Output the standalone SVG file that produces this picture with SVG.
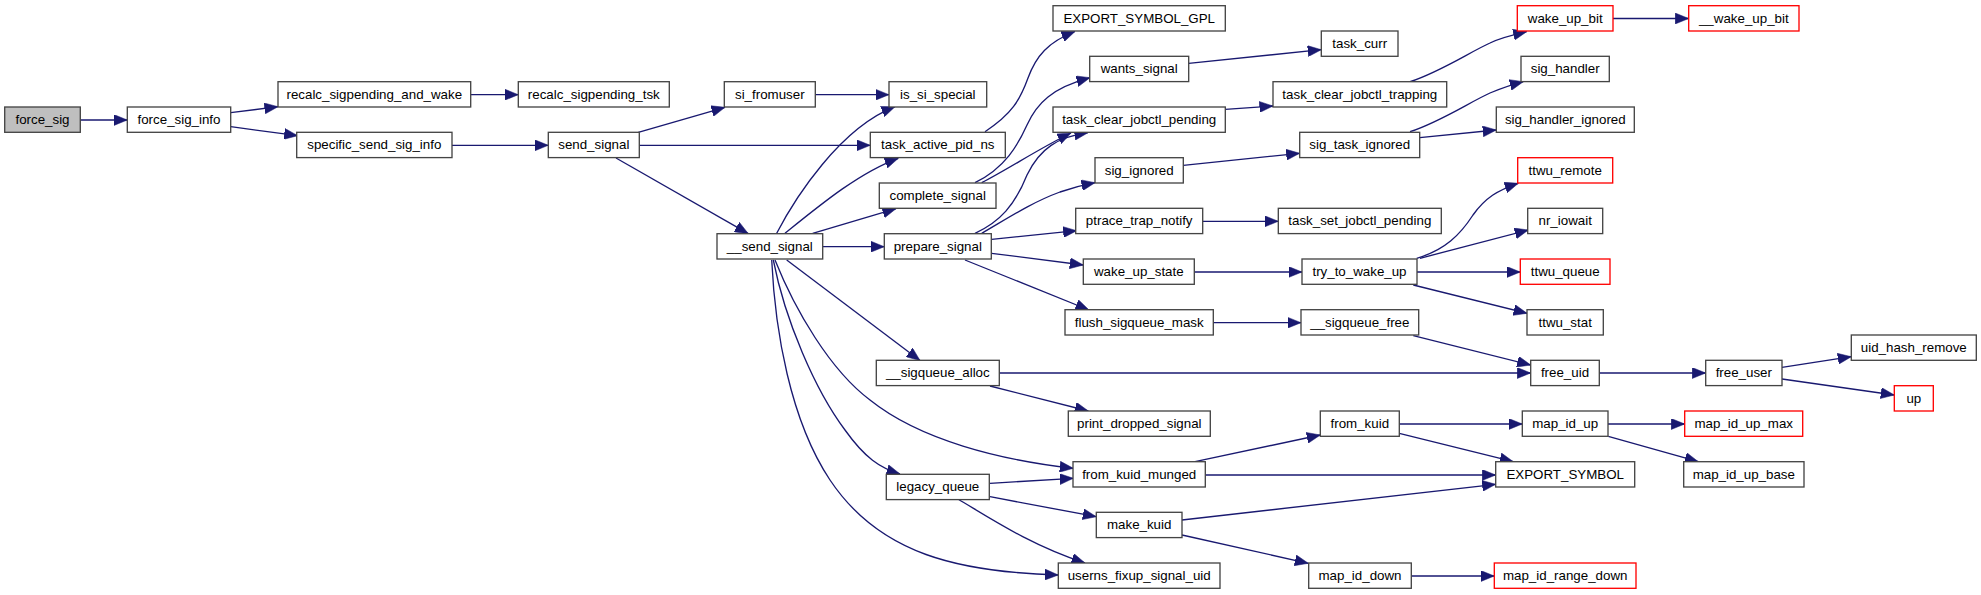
<svg xmlns="http://www.w3.org/2000/svg" width="1981" height="595" viewBox="0 0 1981 595">
<style>
.n rect{fill:#fff;stroke:#444;stroke-width:1.33}
.n.r rect{stroke:#f00}
.n.g rect{fill:#bfbfbf}
.n text{font-family:"Liberation Sans",Arial,sans-serif;font-size:13.33px;text-anchor:middle;fill:#000}
.e path{fill:none;stroke:#191970;stroke-width:1.33;marker-end:url(#a)}
</style>
<defs>
<marker id="a" markerWidth="14" markerHeight="11" refX="13.5" refY="5.5" orient="auto" markerUnits="userSpaceOnUse"><path d="M0,0 L13.5,5.5 L0,11 z" fill="#191970" stroke="#191970" stroke-width="0.5"/></marker>
</defs>
<rect width="1981" height="595" fill="#fff"/>
<g class="e" id="edges">
<path d="M80.3,120 L127.3,120"/>
<path d="M230.7,112.7 L278,106.7"/>
<path d="M230.7,126.7 L297.7,135.7"/>
<path d="M470.7,94.7 L518.3,94.7"/>
<path d="M452,145.3 L548.3,145.3"/>
<path d="M638.3,132.3 L725,107.3"/>
<path d="M639.3,145.3 L870.3,145.3"/>
<path d="M616,158 L748.3,233.7"/>
<path d="M815.3,94.7 L889,94.7"/>
<path d="M776.7,233.3 C795,198 840,128 895,106.7"/>
<path d="M785,233.3 C820,205 860,172 898.3,158.3"/>
<path d="M812.7,233.3 L896,208.7"/>
<path d="M822.7,246.7 L884.3,246.7"/>
<path d="M985,131.7 C1012,114 1020,100 1028,78 C1036,56 1048,42 1075,31.5"/>
<path d="M975,182.7 C1005,168 1018,145 1027,125 C1037,103 1052,88 1090,77.7"/>
<path d="M981.7,182.7 C1010,168 1040,148 1071,133"/>
<path d="M975,233.3 C1000,222 1015,205 1027,175 C1040,148 1058,137 1088,132.7"/>
<path d="M981.7,233.3 C1005,220 1030,203 1060,192 C1072,188 1083,185 1095,182.7"/>
<path d="M991.7,239.3 L1076.7,230.7"/>
<path d="M991.7,253.3 L1083.3,265"/>
<path d="M965,260 L1089,310"/>
<path d="M1188.7,63.3 L1321.3,49.7"/>
<path d="M1225.3,109.3 L1273,106"/>
<path d="M1410,81.7 C1440,72 1470,52 1490,43 C1500,38 1512,35 1526.7,31.7"/>
<path d="M1410,131.7 C1440,122 1470,102 1490,93 C1500,89 1510,85 1523.3,81.7"/>
<path d="M1419.7,137.7 L1496.3,130"/>
<path d="M1183.3,165.3 L1299.7,153.3"/>
<path d="M1202.7,221.3 L1278.3,221.3"/>
<path d="M1194.3,272 L1302,272"/>
<path d="M1416.7,258.3 C1445,250 1460,235 1473,215 C1485,198 1498,190 1518.3,183.3"/>
<path d="M1420,258.3 L1528.3,230"/>
<path d="M1417,272 L1520.3,272"/>
<path d="M1413.3,285 L1527,313.3"/>
<path d="M1213.3,322.7 L1301,322.7"/>
<path d="M1413.3,335.7 L1530.7,365"/>
<path d="M999.3,373 L1530.7,373"/>
<path d="M990,386 L1088.3,411"/>
<path d="M786.7,260 L920,360.5"/>
<path d="M775,260 C795,310 830,370 870,400 C920,440 1000,460 1073.3,468.3"/>
<path d="M773.3,260 C785,320 815,390 845,430 C865,458 880,468 900,474"/>
<path d="M771.7,260 C775,330 790,420 830,480 C880,555 960,572 1058.3,575"/>
<path d="M990,483.3 L1073.3,478.3"/>
<path d="M990,496.7 L1096.3,516.7"/>
<path d="M958.3,499.3 C990,518 1030,545 1085,563"/>
<path d="M1195,461.7 L1320.3,435"/>
<path d="M1205.3,475 L1495.7,475"/>
<path d="M1182,520 L1495.7,484.3"/>
<path d="M1182,535 L1308.3,563.3"/>
<path d="M1399.3,424 L1522.3,424"/>
<path d="M1399.3,433.3 L1513.3,461.7"/>
<path d="M1411.3,576 L1494.3,576"/>
<path d="M1599.3,373 L1705.7,373"/>
<path d="M1782,367.3 L1851.3,356.7"/>
<path d="M1782,379 L1894.3,395"/>
<path d="M1608,424 L1684.7,424"/>
<path d="M1608.3,436.3 L1698.3,461.7"/>
<path d="M1613,18.5 L1688.7,18.5"/>
</g>
<g class="n g" id="force_sig"><rect x="4.7" y="107" width="75.6" height="25.3"/><text x="42.5" y="124">force_sig</text></g>
<g class="n" id="force_sig_info"><rect x="127.3" y="107" width="103.4" height="25.3"/><text x="179" y="124">force_sig_info</text></g>
<g class="n" id="recalc_sigpending_and_wake"><rect x="278" y="81.7" width="192.7" height="25.3"/><text x="374.3" y="98.7">recalc_sigpending_and_wake</text></g>
<g class="n" id="specific_send_sig_info"><rect x="296.7" y="132.3" width="155.3" height="25.3"/><text x="374.3" y="149.3">specific_send_sig_info</text></g>
<g class="n" id="recalc_sigpending_tsk"><rect x="518.3" y="81.7" width="151" height="25.3"/><text x="593.8" y="98.7">recalc_sigpending_tsk</text></g>
<g class="n" id="send_signal"><rect x="548.3" y="132.3" width="91" height="25.3"/><text x="593.8" y="149.3">send_signal</text></g>
<g class="n" id="si_fromuser"><rect x="724.3" y="81.7" width="91" height="25.3"/><text x="769.8" y="98.7">si_fromuser</text></g>
<g class="n" id="is_si_special"><rect x="889" y="81.7" width="97.7" height="25.3"/><text x="937.8" y="98.7">is_si_special</text></g>
<g class="n" id="task_active_pid_ns"><rect x="870.3" y="132.3" width="135" height="25.3"/><text x="937.8" y="149.3">task_active_pid_ns</text></g>
<g class="n" id="complete_signal"><rect x="879.3" y="183" width="116.7" height="25.3"/><text x="937.7" y="200">complete_signal</text></g>
<g class="n" id="__send_signal"><rect x="717" y="233.7" width="105.7" height="25.3"/><text x="769.8" y="250.7">__send_signal</text></g>
<g class="n" id="prepare_signal"><rect x="884.3" y="233.7" width="107" height="25.3"/><text x="937.8" y="250.7">prepare_signal</text></g>
<g class="n" id="__sigqueue_alloc"><rect x="876.3" y="360.3" width="123" height="25.3"/><text x="937.8" y="377.3">__sigqueue_alloc</text></g>
<g class="n" id="legacy_queue"><rect x="886.3" y="474.3" width="103" height="25.3"/><text x="937.8" y="491.3">legacy_queue</text></g>
<g class="n" id="EXPORT_SYMBOL_GPL"><rect x="1053" y="5.7" width="172.3" height="25.3"/><text x="1139.2" y="22.7">EXPORT_SYMBOL_GPL</text></g>
<g class="n" id="wants_signal"><rect x="1089.7" y="56.3" width="99" height="25.3"/><text x="1139.2" y="73.3">wants_signal</text></g>
<g class="n" id="task_clear_jobctl_pending"><rect x="1053" y="107" width="172.3" height="25.3"/><text x="1139.2" y="124">task_clear_jobctl_pending</text></g>
<g class="n" id="sig_ignored"><rect x="1095" y="157.7" width="88.3" height="25.3"/><text x="1139.2" y="174.7">sig_ignored</text></g>
<g class="n" id="ptrace_trap_notify"><rect x="1075.7" y="208.3" width="127" height="25.3"/><text x="1139.2" y="225.3">ptrace_trap_notify</text></g>
<g class="n" id="wake_up_state"><rect x="1083.3" y="259" width="111" height="25.3"/><text x="1138.8" y="276">wake_up_state</text></g>
<g class="n" id="flush_sigqueue_mask"><rect x="1065" y="309.7" width="148.3" height="25.3"/><text x="1139.2" y="326.7">flush_sigqueue_mask</text></g>
<g class="n" id="print_dropped_signal"><rect x="1068.3" y="411" width="142" height="25.3"/><text x="1139.3" y="428">print_dropped_signal</text></g>
<g class="n" id="from_kuid_munged"><rect x="1073" y="461.7" width="132.3" height="25.3"/><text x="1139.2" y="478.7">from_kuid_munged</text></g>
<g class="n" id="make_kuid"><rect x="1096.3" y="512.3" width="85.7" height="25.3"/><text x="1139.2" y="529.3">make_kuid</text></g>
<g class="n" id="userns_fixup_signal_uid"><rect x="1058.3" y="563" width="161.7" height="25.3"/><text x="1139.2" y="580">userns_fixup_signal_uid</text></g>
<g class="n" id="task_curr"><rect x="1321.3" y="31" width="76.7" height="25.3"/><text x="1359.7" y="48">task_curr</text></g>
<g class="n" id="task_clear_jobctl_trapping"><rect x="1273" y="81.7" width="173.7" height="25.3"/><text x="1359.8" y="98.7">task_clear_jobctl_trapping</text></g>
<g class="n" id="sig_task_ignored"><rect x="1299.7" y="132.3" width="120" height="25.3"/><text x="1359.7" y="149.3">sig_task_ignored</text></g>
<g class="n" id="task_set_jobctl_pending"><rect x="1278.3" y="208.3" width="163" height="25.3"/><text x="1359.8" y="225.3">task_set_jobctl_pending</text></g>
<g class="n" id="try_to_wake_up"><rect x="1302" y="259" width="115" height="25.3"/><text x="1359.5" y="276">try_to_wake_up</text></g>
<g class="n" id="__sigqueue_free"><rect x="1301" y="309.7" width="117.7" height="25.3"/><text x="1359.8" y="326.7">__sigqueue_free</text></g>
<g class="n" id="from_kuid"><rect x="1320.3" y="411" width="79" height="25.3"/><text x="1359.8" y="428">from_kuid</text></g>
<g class="n" id="map_id_down"><rect x="1308.7" y="563" width="102.6" height="25.3"/><text x="1360" y="580">map_id_down</text></g>
<g class="n r" id="wake_up_bit"><rect x="1517.3" y="5.7" width="95.7" height="25.3"/><text x="1565.2" y="22.7">wake_up_bit</text></g>
<g class="n" id="sig_handler"><rect x="1521" y="56.3" width="88.3" height="25.3"/><text x="1565.2" y="73.3">sig_handler</text></g>
<g class="n" id="sig_handler_ignored"><rect x="1496.3" y="107" width="138" height="25.3"/><text x="1565.3" y="124">sig_handler_ignored</text></g>
<g class="n r" id="ttwu_remote"><rect x="1517.7" y="157.7" width="95" height="25.3"/><text x="1565.2" y="174.7">ttwu_remote</text></g>
<g class="n" id="nr_iowait"><rect x="1527.7" y="208.3" width="75" height="25.3"/><text x="1565.2" y="225.3">nr_iowait</text></g>
<g class="n r" id="ttwu_queue"><rect x="1520.3" y="259" width="89.7" height="25.3"/><text x="1565.2" y="276">ttwu_queue</text></g>
<g class="n" id="ttwu_stat"><rect x="1527" y="309.7" width="76.3" height="25.3"/><text x="1565.2" y="326.7">ttwu_stat</text></g>
<g class="n" id="free_uid"><rect x="1530.7" y="360.3" width="68.6" height="25.3"/><text x="1565" y="377.3">free_uid</text></g>
<g class="n" id="map_id_up"><rect x="1522.3" y="411" width="85.7" height="25.3"/><text x="1565.2" y="428">map_id_up</text></g>
<g class="n" id="EXPORT_SYMBOL"><rect x="1495.7" y="461.7" width="139" height="25.3"/><text x="1565.2" y="478.7">EXPORT_SYMBOL</text></g>
<g class="n r" id="map_id_range_down"><rect x="1494.3" y="563" width="141.7" height="25.3"/><text x="1565.2" y="580">map_id_range_down</text></g>
<g class="n r" id="__wake_up_bit"><rect x="1688.7" y="5.7" width="110.3" height="25.3"/><text x="1743.8" y="22.7">__wake_up_bit</text></g>
<g class="n" id="free_user"><rect x="1705.7" y="360.3" width="76.3" height="25.3"/><text x="1743.8" y="377.3">free_user</text></g>
<g class="n r" id="map_id_up_max"><rect x="1684.7" y="411" width="118" height="25.3"/><text x="1743.7" y="428">map_id_up_max</text></g>
<g class="n" id="map_id_up_base"><rect x="1683.7" y="461.7" width="120.3" height="25.3"/><text x="1743.8" y="478.7">map_id_up_base</text></g>
<g class="n" id="uid_hash_remove"><rect x="1851.3" y="335" width="125" height="25.3"/><text x="1913.8" y="352">uid_hash_remove</text></g>
<g class="n r" id="up"><rect x="1894.3" y="385.7" width="39" height="25.3"/><text x="1913.8" y="402.7">up</text></g>
</svg>
